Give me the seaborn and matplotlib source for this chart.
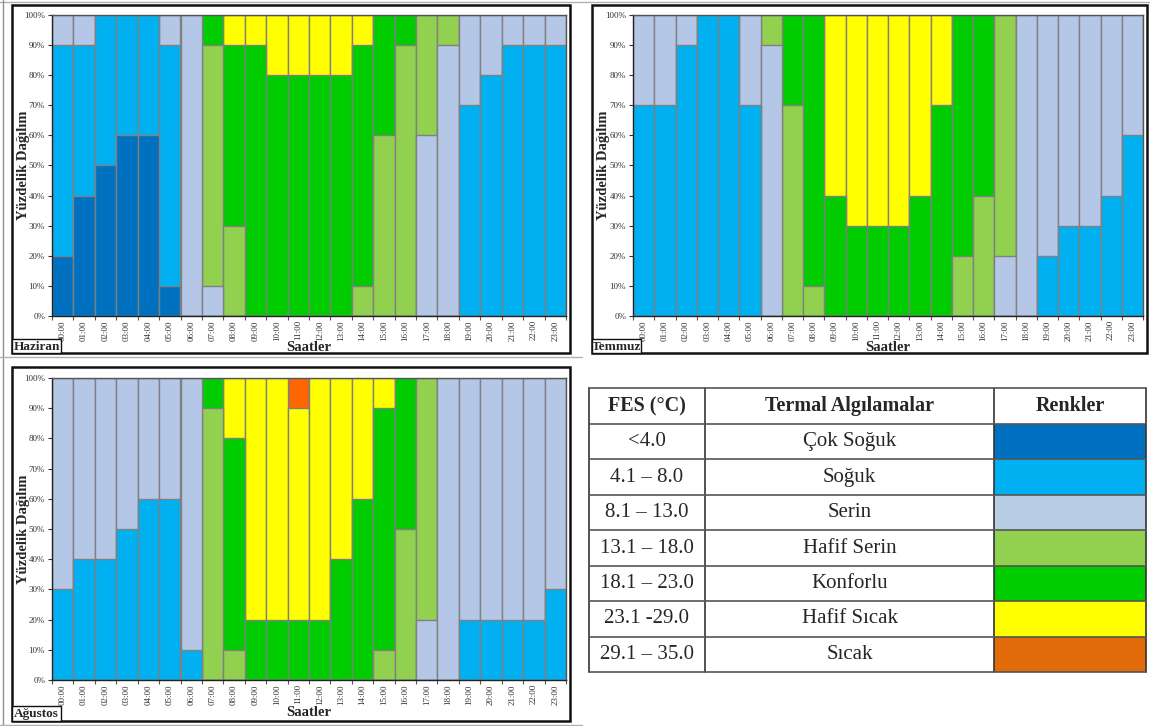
import numpy as np
import pandas as pd
import matplotlib
matplotlib.use("Agg")
import matplotlib.pyplot as plt
from matplotlib.patches import Rectangle
from matplotlib.lines import Line2D
import seaborn as sns

sns.set_theme(style="white")
plt.rcParams['font.family'] = ['Liberation Serif', 'DejaVu Serif']

hours = ["%02d:00" % h for h in range(24)]
categories = ["Çok Soğuk", "Soğuk", "Serin", "Hafif Serin", "Konforlu", "Hafif Sıcak", "Sıcak"]
fes_ranges = ["<4.0", "4.1 – 8.0", "8.1 – 13.0", "13.1 – 18.0", "18.1 – 23.0", "23.1 -29.0", "29.1 – 35.0"]
bar_colors = ["#0070C0", "#00B0F0", "#B4C7E7", "#92D050", "#00CC00", "#FFFF00", "#FF6600"]
table_colors = ["#0070C0", "#00B0F0", "#B8CCE4", "#92D050", "#00CC00", "#FFFF00", "#E36C0A"]

# Percent per hour for each category (Haziran / June)
haziran_cok_soguk   = [20, 40, 50, 60, 60, 10, 0, 0, 0, 0, 0, 0, 0, 0, 0, 0, 0, 0, 0, 0, 0, 0, 0, 0]
haziran_soguk       = [70, 50, 50, 40, 40, 80, 0, 0, 0, 0, 0, 0, 0, 0, 0, 0, 0, 0, 0, 70, 80, 90, 90, 90]
haziran_serin       = [10, 10, 0, 0, 0, 10, 100, 10, 0, 0, 0, 0, 0, 0, 0, 0, 0, 60, 90, 30, 20, 10, 10, 10]
haziran_hafif_serin = [0, 0, 0, 0, 0, 0, 0, 80, 30, 0, 0, 0, 0, 0, 10, 60, 90, 40, 10, 0, 0, 0, 0, 0]
haziran_konforlu    = [0, 0, 0, 0, 0, 0, 0, 10, 60, 90, 80, 80, 80, 80, 80, 40, 10, 0, 0, 0, 0, 0, 0, 0]
haziran_hafif_sicak = [0, 0, 0, 0, 0, 0, 0, 0, 10, 10, 20, 20, 20, 20, 10, 0, 0, 0, 0, 0, 0, 0, 0, 0]
haziran_sicak       = [0] * 24

# Temmuz / July
temmuz_cok_soguk   = [0] * 24
temmuz_soguk       = [70, 70, 90, 100, 100, 70, 0, 0, 0, 0, 0, 0, 0, 0, 0, 0, 0, 0, 0, 20, 30, 30, 40, 60]
temmuz_serin       = [30, 30, 10, 0, 0, 30, 90, 0, 0, 0, 0, 0, 0, 0, 0, 0, 0, 20, 100, 80, 70, 70, 60, 40]
temmuz_hafif_serin = [0, 0, 0, 0, 0, 0, 10, 70, 10, 0, 0, 0, 0, 0, 0, 20, 40, 80, 0, 0, 0, 0, 0, 0]
temmuz_konforlu    = [0, 0, 0, 0, 0, 0, 0, 30, 90, 40, 30, 30, 30, 40, 70, 80, 60, 0, 0, 0, 0, 0, 0, 0]
temmuz_hafif_sicak = [0, 0, 0, 0, 0, 0, 0, 0, 0, 60, 70, 70, 70, 60, 30, 0, 0, 0, 0, 0, 0, 0, 0, 0]
temmuz_sicak       = [0] * 24

# Ağustos / August
agustos_cok_soguk   = [0] * 24
agustos_soguk       = [30, 40, 40, 50, 60, 60, 10, 0, 0, 0, 0, 0, 0, 0, 0, 0, 0, 0, 0, 20, 20, 20, 20, 30]
agustos_serin       = [70, 60, 60, 50, 40, 40, 90, 0, 0, 0, 0, 0, 0, 0, 0, 0, 0, 20, 100, 80, 80, 80, 80, 70]
agustos_hafif_serin = [0, 0, 0, 0, 0, 0, 0, 90, 10, 0, 0, 0, 0, 0, 0, 10, 50, 80, 0, 0, 0, 0, 0, 0]
agustos_konforlu    = [0, 0, 0, 0, 0, 0, 0, 10, 70, 20, 20, 20, 20, 40, 60, 80, 50, 0, 0, 0, 0, 0, 0, 0]
agustos_hafif_sicak = [0, 0, 0, 0, 0, 0, 0, 0, 20, 80, 80, 70, 80, 60, 40, 10, 0, 0, 0, 0, 0, 0, 0, 0]
agustos_sicak       = [0, 0, 0, 0, 0, 0, 0, 0, 0, 0, 0, 10, 0, 0, 0, 0, 0, 0, 0, 0, 0, 0, 0, 0]

months = {
    "Haziran": [haziran_cok_soguk, haziran_soguk, haziran_serin, haziran_hafif_serin,
                haziran_konforlu, haziran_hafif_sicak, haziran_sicak],
    "Temmuz": [temmuz_cok_soguk, temmuz_soguk, temmuz_serin, temmuz_hafif_serin,
               temmuz_konforlu, temmuz_hafif_sicak, temmuz_sicak],
    "Ağustos": [agustos_cok_soguk, agustos_soguk, agustos_serin, agustos_hafif_serin,
                agustos_konforlu, agustos_hafif_sicak, agustos_sicak],
}

W, H = 1150, 726
fig = plt.figure(figsize=(W / 100, H / 100), dpi=100)
fig.patch.set_facecolor("white")


def px_axes(x0, y0, x1, y1):
    return fig.add_axes([x0 / W, 1 - y1 / H, (x1 - x0) / W, (y1 - y0) / H])


def fig_rect(x0, y0, x1, y1, lw=1.0, ec="black", fc="none", z=5):
    r = Rectangle((x0 / W, 1 - y1 / H), (x1 - x0) / W, (y1 - y0) / H,
                  transform=fig.transFigure, lw=lw, ec=ec, fc=fc, zorder=z)
    fig.add_artist(r)


def fig_line(xs, ys, lw=1.0, color="#9a9a9a"):
    fig.add_artist(Line2D([x / W for x in xs], [1 - y / H for y in ys],
                          transform=fig.transFigure, lw=lw, color=color, zorder=4))


panels = {
    "Haziran": dict(ax=(52, 15, 566, 316), frame=(12, 5, 570, 353), lab=(12, 339, 61, 353),
                    xlab_top=341, ylab_x=30),
    "Temmuz": dict(ax=(633, 15, 1143, 316), frame=(592, 5, 1147, 353), lab=(592, 339, 641, 353),
                   xlab_top=341, ylab_x=610),
    "Ağustos": dict(ax=(52, 378, 566, 680), frame=(12, 367, 570, 721), lab=(12, 706, 61, 721),
                    xlab_top=706, ylab_x=30),
}

for month, series in months.items():
    p = panels[month]
    ax = px_axes(*p["ax"])
    cum = np.cumsum(np.array(series), axis=0)
    # draw cumulative totals from the warmest down so each colour shows its own slice
    for i in range(len(categories) - 1, -1, -1):
        df = pd.DataFrame({"saat": hours, "oran": cum[i]})
        sns.barplot(data=df, x="saat", y="oran", color=bar_colors[i], width=1.0,
                    saturation=1, edgecolor="#808080", linewidth=1.0, errorbar=None, ax=ax)
    ax.set_xlim(-0.5, 23.5)
    ax.set_ylim(0, 100)
    ax.set_yticks(np.arange(0, 101, 10))
    ax.set_yticklabels(["%d%%" % v for v in range(0, 101, 10)], fontsize=6.5, color="#333333")
    ax.set_xticks(range(24))
    ax.set_xticklabels(hours, rotation=90, fontsize=6.5, color="#333333")
    ax.set_xticks(np.arange(-0.5, 24, 1), minor=True)
    ax.tick_params(axis="x", which="major", length=0, pad=3)
    ax.tick_params(axis="x", which="minor", length=3, width=0.8, color="#555555", direction="out")
    ax.tick_params(axis="y", length=3, width=0.8, color="#333333", direction="out", pad=2)
    ax.tick_params(axis="both", which="both", bottom=True, left=True)
    for s in ax.spines.values():
        s.set_color("#555555")
        s.set_linewidth(1.0)
    ax.spines["left"].set_color("#222222")
    ax.spines["bottom"].set_color("#222222")
    ax.set_xlabel("Saatler", fontsize=10.5, fontweight="bold")
    ax.set_ylabel("Yüzdelik Dağılım", fontsize=10.5, fontweight="bold")
    x0, y0, x1, y1 = p["ax"]
    ax.xaxis.set_label_coords(0.5, -(p["xlab_top"] - y1) / (y1 - y0))
    ax.yaxis.set_label_coords(-(x0 - p["ylab_x"]) / (x1 - x0), 0.5)

    fx0, fy0, fx1, fy1 = p["frame"]
    fig_rect(fx0, fy0, fx1, fy1, lw=1.8, ec="#111111")
    lx0, ly0, lx1, ly1 = p["lab"]
    fig_rect(lx0, ly0, lx1, ly1, lw=1.0, ec="#111111", fc="white", z=6)
    fig.text((lx0 + lx1) / 2 / W, 1 - ((ly0 + ly1) / 2 + 0.5) / H, month, ha="center", va="center",
             fontsize=9.5, fontweight="bold", zorder=7)

# thin outer page lines
fig_line([0, W], [1.5, 1.5], lw=1.0, color="#b0b0b0")
fig_line([3, 3], [0, H], lw=1.0, color="#909090")
fig_line([0, 582], [357, 357], lw=1.0, color="#b0b0b0")
fig_line([0, 582], [724.5, 724.5], lw=1.0, color="#b0b0b0")

# Legend table
tx = [589, 705, 994, 1146]
ty = [388, 424] + [424 + 35.43 * (k + 1) for k in range(7)]
tax = fig.add_axes([0, 0, 1, 1], zorder=3)
tax.set_xlim(0, W)
tax.set_ylim(H, 0)
tax.axis("off")
tax.patch.set_alpha(0)
for r in range(7):
    tax.add_patch(Rectangle((tx[2], ty[r + 1]), tx[3] - tx[2], ty[r + 2] - ty[r + 1],
                            fc=table_colors[r], ec="none"))
for x in tx:
    tax.plot([x, x], [ty[0], ty[-1]], color="#333333", lw=1.2)
for y in ty:
    tax.plot([tx[0], tx[-1]], [y, y], color="#555555", lw=1.2)
headers = ["FES (°C)", "Termal Algılamalar", "Renkler"]
for c, h in enumerate(headers):
    tax.text((tx[c] + tx[c + 1]) / 2, (ty[0] + ty[1]) / 2, h, ha="center", va="center",
             fontsize=14.5, fontweight="bold")
for r in range(7):
    yc = (ty[r + 1] + ty[r + 2]) / 2
    tax.text((tx[0] + tx[1]) / 2, yc, fes_ranges[r], ha="center", va="center", fontsize=15)
    tax.text((tx[1] + tx[2]) / 2, yc, categories[r], ha="center", va="center", fontsize=15)

fig.savefig("out.png", dpi=100, facecolor="white")
